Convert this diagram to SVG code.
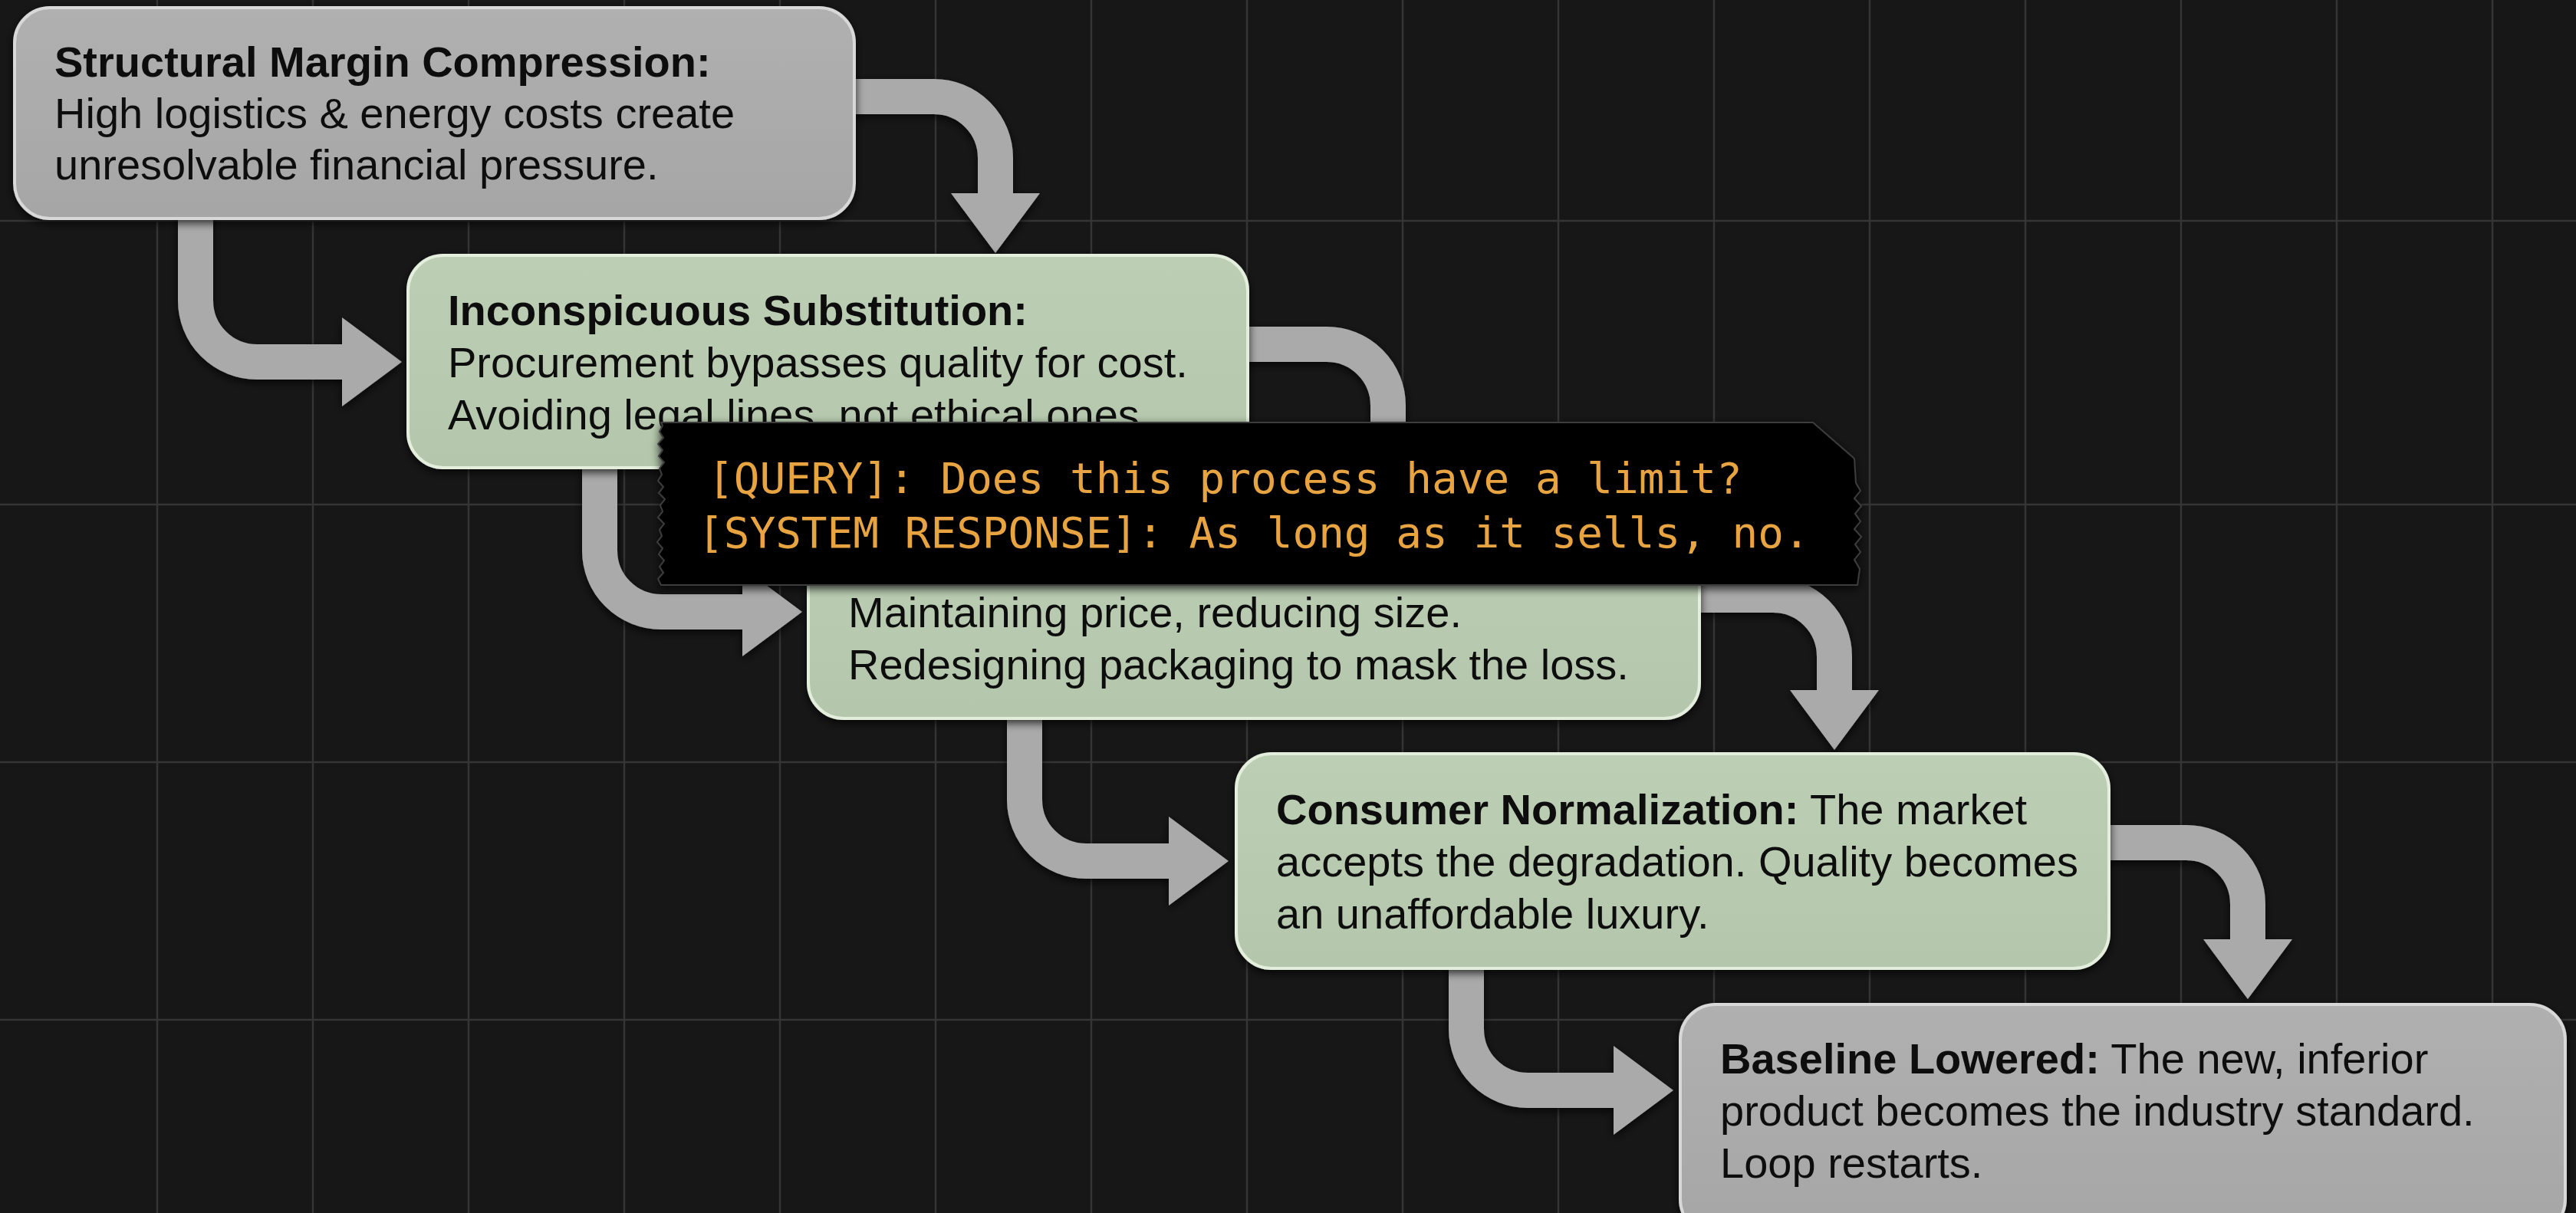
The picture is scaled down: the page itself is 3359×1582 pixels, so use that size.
<svg xmlns="http://www.w3.org/2000/svg" width="3359" height="1582" viewBox="0 0 3359 1582">
  <style>
    .grid line { stroke: #353535; stroke-width: 2.5; }
    .conn { fill: none; stroke: #aaaaaa; stroke-width: 46; stroke-linecap: butt; }
    .node-gray rect { fill: url(#gGray); stroke: #d8d8d8; stroke-width: 4; }
    .node-green rect { fill: url(#gGreen); stroke: #e4eedd; stroke-width: 4; }
    .t { font-family: "Liberation Sans", Arial, Helvetica, sans-serif; font-size: 56px; fill: #111111; }
    .b { font-weight: bold; }
    .term { font-family: "DejaVu Sans Mono", "Liberation Mono", monospace; font-size: 56px; fill: #e9a443; }
  </style>
  <defs>
    <linearGradient id="gGray" x1="0" y1="0" x2="0" y2="1">
      <stop offset="0" stop-color="#b0b0b0"/>
      <stop offset="1" stop-color="#a6a6a6"/>
    </linearGradient>
    <linearGradient id="gGreen" x1="0" y1="0" x2="0" y2="1">
      <stop offset="0" stop-color="#bccfb4"/>
      <stop offset="1" stop-color="#b4c7ac"/>
    </linearGradient>
    <filter id="shadow" x="-10%" y="-20%" width="120%" height="140%">
      <feDropShadow dx="0" dy="4" stdDeviation="6" flood-color="#000000" flood-opacity="0.75"/>
    </filter>
    <marker id="arrow" markerUnits="userSpaceOnUse" markerWidth="80" markerHeight="116" refX="0" refY="58" orient="auto" overflow="visible">
      <path d="M0,0 L78,58 L0,116 Z" fill="#aaaaaa"/>
    </marker>
  </defs>

  <rect x="0" y="0" width="3359" height="1582" fill="#171717"/>

  <g class="grid">
    <line x1="205" y1="0" x2="205" y2="1582"/>
    <line x1="408" y1="0" x2="408" y2="1582"/>
    <line x1="611" y1="0" x2="611" y2="1582"/>
    <line x1="814" y1="0" x2="814" y2="1582"/>
    <line x1="1017" y1="0" x2="1017" y2="1582"/>
    <line x1="1220" y1="0" x2="1220" y2="1582"/>
    <line x1="1423" y1="0" x2="1423" y2="1582"/>
    <line x1="1626" y1="0" x2="1626" y2="1582"/>
    <line x1="1829" y1="0" x2="1829" y2="1582"/>
    <line x1="2032" y1="0" x2="2032" y2="1582"/>
    <line x1="2235" y1="0" x2="2235" y2="1582"/>
    <line x1="2438" y1="0" x2="2438" y2="1582"/>
    <line x1="2641" y1="0" x2="2641" y2="1582"/>
    <line x1="2844" y1="0" x2="2844" y2="1582"/>
    <line x1="3047" y1="0" x2="3047" y2="1582"/>
    <line x1="3250" y1="0" x2="3250" y2="1582"/>
    <line x1="0" y1="288" x2="3359" y2="288"/>
    <line x1="0" y1="658" x2="3359" y2="658"/>
    <line x1="0" y1="994" x2="3359" y2="994"/>
    <line x1="0" y1="1330" x2="3359" y2="1330"/>
  </g>

  <g id="connectors" filter="url(#shadow)">
    <path class="conn" d="M255 250 V392 A80 80 0 0 0 335 472 H446" marker-end="url(#arrow)"/>
    <path class="conn" d="M1090 126 H1218 A80 80 0 0 1 1298 206 V252" marker-end="url(#arrow)"/>
    <path class="conn" d="M782 590 V718 A80 80 0 0 0 862 798 H968" marker-end="url(#arrow)"/>
    <path class="conn" d="M1600 449 H1730 A80 80 0 0 1 1810 529 V575" marker-end="url(#arrow)"/>
    <path class="conn" d="M2190 776 H2312 A80 80 0 0 1 2392 856 V900" marker-end="url(#arrow)"/>
    <path class="conn" d="M1336 910 V1043 A80 80 0 0 0 1416 1123 H1524" marker-end="url(#arrow)"/>
    <path class="conn" d="M1912 1240 V1342 A80 80 0 0 0 1992 1422 H2104" marker-end="url(#arrow)"/>
    <path class="conn" d="M2730 1099 H2851 A80 80 0 0 1 2931 1179 V1225" marker-end="url(#arrow)"/>
  </g>

  <g id="node-1" class="node-gray" filter="url(#shadow)">
    <rect x="19" y="10" width="1095" height="275" rx="46" ry="46"/>
    <text class="t b" x="71" y="100">Structural Margin Compression:</text>
    <text class="t" x="71" y="167">High logistics &amp; energy costs create</text>
    <text class="t" x="71" y="234">unresolvable financial pressure.</text>
  </g>

  <g id="node-2" class="node-green" filter="url(#shadow)">
    <rect x="532" y="333" width="1095" height="277" rx="46" ry="46"/>
    <text class="t b" x="584" y="424">Inconspicuous Substitution:</text>
    <text class="t" x="584" y="492">Procurement bypasses quality for cost.</text>
    <text class="t" x="584" y="560">Avoiding legal lines, not ethical ones.</text>
  </g>

  <g id="node-3" class="node-green" filter="url(#shadow)">
    <rect x="1054" y="659" width="1162" height="278" rx="46" ry="46"/>
    <text class="t" x="1106" y="818">Maintaining price, reducing size.</text>
    <text class="t" x="1106" y="886">Redesigning packaging to mask the loss.</text>
  </g>

  <g id="node-4" class="node-green" filter="url(#shadow)">
    <rect x="1612" y="983" width="1138" height="280" rx="46" ry="46"/>
    <text class="t" x="1664" y="1075"><tspan class="b">Consumer Normalization:</tspan> The market</text>
    <text class="t" x="1664" y="1143">accepts the degradation. Quality becomes</text>
    <text class="t" x="1664" y="1211">an unaffordable luxury.</text>
  </g>

  <g id="node-5" class="node-gray" filter="url(#shadow)">
    <rect x="2191" y="1310" width="1154" height="300" rx="46" ry="46"/>
    <text class="t" x="2243" y="1400"><tspan class="b">Baseline Lowered:</tspan> The new, inferior</text>
    <text class="t" x="2243" y="1468">product becomes the industry standard.</text>
    <text class="t" x="2243" y="1536">Loop restarts.</text>
  </g>

  <g id="terminal" filter="url(#shadow)">
    <path d="M862 551 L2364 551 L2418 598 L2420 630 L2426 640 L2418 650 L2427 660 L2419 670 L2426 680 L2418 690 L2427 700 L2419 710 L2426 720 L2418 730 L2425 742 L2422 763 L862 763 L858 755 L865 747 L860 739 L866 731 L859 723 L864 715 L857 707 L863 699 L860 691 L866 683 L858 675 L864 667 L861 659 L867 651 L859 643 L865 635 L858 627 L863 619 L860 611 L866 603 L859 595 L864 587 L858 579 L865 571 L860 563 L864 555 Z" fill="#040404" stroke="#3c3c3c" stroke-width="2"/>
    <text class="term" x="923" y="643">[QUERY]: Does this process have a limit?</text>
    <text class="term" x="910" y="714">[SYSTEM RESPONSE]: As long as it sells, no.</text>
  </g>
</svg>
